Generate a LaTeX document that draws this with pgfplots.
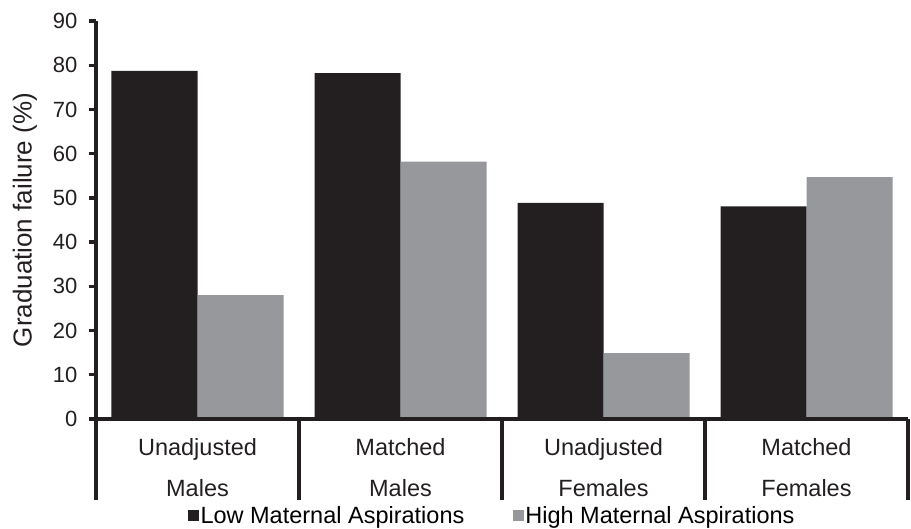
\documentclass[border=0pt]{standalone}
\usepackage{pgfplots}
\pgfplotsset{compat=1.18}
\usepackage{fontspec}
\setmainfont{Liberation Sans}
\definecolor{barblack}{HTML}{231F20}
\definecolor{bargray}{HTML}{97989B}
\begin{document}
\begin{tikzpicture}
\begin{axis}[
  name=ax,
  at={(0,0)}, anchor=south west,
  scale only axis,
  width=812pt, height=398pt,
  xmin=-0.5, xmax=3.5, ymin=0, ymax=90,
  clip=false,
  axis line style={draw=none},
  tick pos=left,
  ytick={0,10,...,90},
  tick align=outside,
  major tick length=7pt,
  y tick style={line width=3.4pt, draw=barblack},
  /pgf/number format/assume math mode=true,
  yticklabel style={font=\fontsize{22}{26}\selectfont, text=barblack, xshift=-8pt},
  xtick={0,1,2,3},
  x tick style={draw=none},
  xticklabels={Unadjusted\\[13pt]Males, Matched\\[13pt]Males, Unadjusted\\[13pt]Females, Matched\\[13pt]Females},
  xticklabel style={font=\fontsize{23.5}{28}\selectfont, align=center, text=barblack, yshift=-9pt},
  ylabel={Graduation failure (\%)},
  ylabel style={font=\fontsize{26}{30}\selectfont, text=barblack, at={(-71pt,0.5)}, anchor=center},
  ybar, bar width=86pt,
  legend style={draw=none, at={(0.5,0)}, anchor=center, yshift=-97pt, xshift=-10pt,
     font=\fontsize{23.5}{28}\selectfont, legend columns=2,
     nodes={inner sep=1.5pt},
     /tikz/every even column/.append style={column sep=47pt}},
  legend image code/.code={\fill[#1] (0pt,-5.5pt) rectangle (11pt,5.5pt);},
  legend cell align=left,
]
\addplot[fill=barblack, draw=none, bar shift=-43pt] coordinates {(0,78.7) (1,78.2) (2,48.9) (3,48.1)};
\addplot[fill=bargray, draw=none, bar shift=43pt] coordinates {(0,28.0) (1,58.2) (2,14.9) (3,54.7)};
\legend{Low Maternal Aspirations, High Maternal Aspirations}
\draw[line width=3.8pt, barblack] (rel axis cs:0,1) -- (rel axis cs:0,0) -- (rel axis cs:1,0);
\draw[line width=3.2pt, barblack] (axis cs:-0.5,0) -- ++(0pt,-81pt);
\draw[line width=3.2pt, barblack] (axis cs:0.5,0) -- ++(0pt,-81pt);
\draw[line width=3.2pt, barblack] (axis cs:1.5,0) -- ++(0pt,-81pt);
\draw[line width=3.2pt, barblack] (axis cs:2.5,0) -- ++(0pt,-81pt);
\draw[line width=3.2pt, barblack] (axis cs:3.5,0) -- ++(0pt,-81pt);
\end{axis}
\pgfresetboundingbox
\useasboundingbox (-96pt,-110pt) rectangle (815pt,419pt);
\end{tikzpicture}
\end{document}
